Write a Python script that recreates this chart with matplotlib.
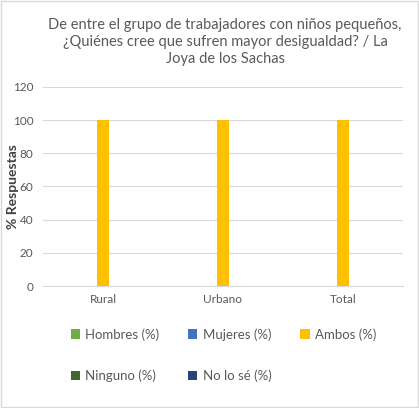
import matplotlib.pyplot as plt
import numpy as np

plt.rcParams['font.family'] = ['Lato', 'DejaVu Sans']

# data
categories = ['Rural', 'Urbano', 'Total']
series = ['Hombres (%)', 'Mujeres (%)', 'Ambos (%)', 'Ninguno (%)', 'No lo sé (%)']
values = [
    [0, 0, 0],
    [0, 0, 0],
    [100, 100, 100],
    [0, 0, 0],
    [0, 0, 0],
]
colors = ['#70AD47', '#4472C4', '#FFC000', '#43682B', '#264478']

fig = plt.figure(figsize=(4.19, 4.08), dpi=100)
ax = fig.add_axes([0.1026, 0.299, 0.859, 0.488])

x = np.arange(len(categories))
w = 0.1
handles = []
for i, (name, vals, c) in enumerate(zip(series, values, colors)):
    b = ax.bar(x + (i - 2) * w, vals, width=w, color=c, label=name, zorder=3)
    handles.append(b)

ax.set_xlim(-0.5, 2.5)
ax.set_ylim(0, 120)
ax.set_yticks(range(0, 121, 20))
ax.set_xticks(x)
ax.set_xticklabels(categories)
ax.grid(axis='y', color='#D9D9D9', linewidth=0.8, zorder=0)
for s in ['top', 'right', 'left']:
    ax.spines[s].set_visible(False)
ax.spines['bottom'].set_color('#D9D9D9')
ax.tick_params(length=0, labelsize=8.5, labelcolor='#595959')
ax.tick_params(axis='y', pad=7)
ax.tick_params(axis='x', pad=6)
ax.set_ylabel('% Respuestas', fontsize=10, fontweight='bold', color='#404040')
ax.yaxis.set_label_coords(-0.066, 0.5)

fig.suptitle('De entre el grupo de trabajadores con niños pequeños,\n'
             '¿Quiénes cree que sufren mayor desigualdad? / La\n'
             'Joya de los Sachas', x=0.537, y=0.955, fontsize=10.5, color='#595959',
             linespacing=1.25)

order = [0, 3, 1, 4, 2]
leg = fig.legend([handles[i] for i in order], [series[i] for i in order],
                 ncol=3, loc='upper left', bbox_to_anchor=(0.14, 0.225),
                 frameon=False, fontsize=9.5, handlelength=0.7, handleheight=0.7,
                 handletextpad=0.4, columnspacing=2.2, labelspacing=2.2)
for t in leg.get_texts():
    t.set_color('#595959')

fig.patches.append(plt.Rectangle((0.002, 0.002), 0.996, 0.996, transform=fig.transFigure,
                                 fill=False, edgecolor='#D9D9D9', linewidth=1))

fig.savefig('out.png', dpi=100)
